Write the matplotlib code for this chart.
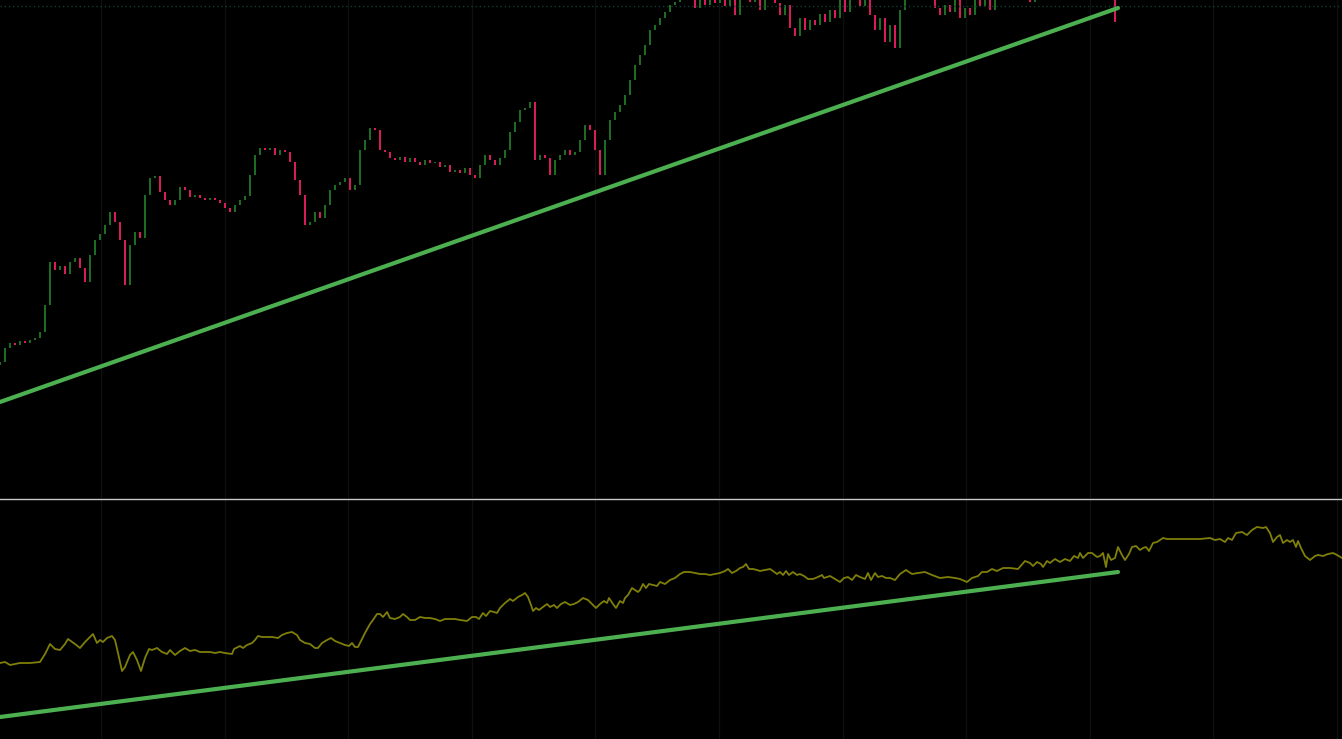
import numpy as np
import matplotlib.pyplot as plt
from matplotlib.lines import Line2D

# price candles (one bar every 5 time units), open of first bar + closes
first_open = 133
closes = [
    136, 150, 155, 153, 157, 155, 158, 160, 166, 193, 236, 228, 232, 224, 236, 240,
    230, 216, 243, 258, 264, 273, 286, 276, 258, 213, 253, 266, 260, 303, 320, 322,
    306, 298, 293, 298, 311, 308, 301, 303, 300, 298, 300, 298, 295, 290, 286, 293,
    298, 302, 323, 343, 350, 348, 350, 343, 348, 346, 336, 318, 303, 273, 276, 286,
    280, 293, 308, 313, 316, 320, 308, 313, 348, 358, 370, 368, 348, 346, 340, 338,
    341, 336, 340, 336, 333, 338, 335, 336, 331, 333, 326, 328, 325, 330, 323, 320,
    333, 343, 338, 333, 340, 348, 366, 376, 388, 390, 396, 338, 343, 340, 323, 338,
    343, 348, 343, 346, 358, 373, 368, 348, 323, 358, 378, 386, 393, 403, 418, 433,
    443, 453, 468, 473, 480, 486, 493, 496, 503, 513, 510, 490, 503, 493, 506, 495,
    508, 492, 504, 483, 510, 503, 496, 506, 488, 513, 518, 495, 483, 493, 470, 462,
    480, 468, 478, 473, 484, 476, 488, 480, 503, 486, 506, 513, 492, 508, 483, 468,
    480, 456, 473, 450, 488, 518, 528, 523, 533, 526, 518, 490, 483, 493, 486, 503,
    480, 490, 483, 508, 492, 513, 488, 506, 523, 538, 533, 528, 543, 536, 496, 538,
    548, 543, 553, 546, 550, 543, 548, 538, 546, 533, 540, 528, 536, 523, 528, 476,
]

# oscillator in the lower pane
osc_x = [
    0, 5, 10, 15, 20, 30, 40, 45, 50, 55, 60, 65, 68, 75, 80, 85, 90, 93, 97, 100,
    103, 107, 112, 115, 118, 122, 125, 130, 133, 137, 141, 145, 149, 152, 157, 162,
    167, 170, 175, 180, 185, 190, 195, 200, 205, 210, 215, 220, 225, 232, 234, 240,
    243, 247, 252, 255, 258, 262, 267, 272, 278, 282, 287, 292, 297, 300, 305, 310,
    315, 318, 322, 327, 331, 335, 340, 345, 349, 352, 355, 358, 362, 365, 370, 373,
    377, 380, 383, 387, 390, 395, 400, 403, 407, 410, 415, 420, 425, 430, 435, 440,
    445, 450, 455, 460, 467, 472, 476, 479, 483, 486, 490, 494, 497, 500, 505, 510,
    513, 518, 522, 525, 528, 531, 533, 536, 539, 543, 547, 550, 554, 557, 561, 565,
    570, 574, 578, 583, 588, 593, 596, 600, 604, 607, 609, 613, 616, 620, 623, 625,
    628, 632, 635, 638, 640, 643, 646, 649, 653, 657, 660, 665, 670, 675, 680, 684,
    690, 695, 700, 705, 710, 715, 720, 725, 728, 732, 736, 740, 743, 746, 749, 753,
    757, 760, 765, 770, 773, 777, 780, 783, 786, 789, 793, 797, 800, 804, 808, 813,
    818, 822, 824, 827, 830, 835, 840, 844, 848, 852, 856, 860, 865, 868, 871, 875,
    878, 882, 886, 890, 895, 900, 906, 912, 918, 925, 932, 940, 948, 955, 960, 967,
    972, 978, 982, 987, 992, 997, 1003, 1010, 1018, 1025, 1030, 1033, 1037, 1041, 1043, 1047,
    1050, 1055, 1060, 1065, 1070, 1074, 1078, 1080, 1083, 1088, 1092, 1097, 1100, 1103, 1106, 1108,
    1111, 1115, 1118, 1122, 1125, 1129, 1132, 1136, 1140, 1143, 1146, 1149, 1153, 1157, 1163, 1167,
    1173, 1180, 1190, 1200, 1210, 1215, 1220, 1225, 1228, 1232, 1236, 1242, 1247, 1252, 1257, 1263,
    1266, 1270, 1273, 1277, 1280, 1283, 1287, 1290, 1293, 1296, 1298, 1301, 1305, 1310, 1315, 1318,
    1323, 1328, 1333, 1337, 1342,
]
osc_val = [
    76, 77, 74, 75, 76, 76, 77, 85, 95, 90, 89, 95, 100, 95, 91, 97, 102, 105, 96, 99,
    97, 101, 103, 99, 86, 68, 72, 84, 87, 79, 68, 81, 90, 89, 91, 87,
    85, 89, 84, 88, 91, 88, 89, 87, 87, 87, 86, 87, 86, 85, 90, 93,
    91, 94, 96, 99, 103, 102, 102, 102, 101, 104, 106, 107, 104, 99, 96, 95,
    91, 91, 96, 99, 101, 98, 96, 94, 93, 96, 92, 92, 100, 106, 115, 119,
    125, 125, 122, 127, 121, 120, 122, 125, 122, 119, 119, 122, 121, 121, 120, 118,
    120, 120, 120, 119, 118, 122, 122, 120, 126, 123, 128, 127, 126, 131, 136, 140,
    138, 142, 144, 146, 142, 134, 128, 131, 129, 132, 135, 132, 134, 131, 135, 137,
    134, 135, 137, 141, 139, 134, 131, 135, 138, 136, 141, 135, 131, 138, 136, 141,
    144, 151, 149, 147, 149, 155, 151, 155, 154, 153, 157, 155, 159, 161, 165, 167,
    167, 166, 165, 165, 164, 165, 166, 168, 170, 166, 168, 171, 172, 175, 170, 170,
    169, 168, 169, 170, 168, 165, 167, 164, 168, 164, 167, 164, 165, 163, 160, 160,
    162, 164, 161, 162, 163, 160, 157, 161, 162, 159, 164, 162, 160, 166, 159, 166,
    162, 163, 161, 161, 159, 165, 169, 165, 166, 167, 164, 161, 162, 161, 160, 157,
    161, 163, 167, 167, 170, 168, 171, 171, 170, 178, 176, 173, 177, 175, 172, 178,
    176, 180, 177, 180, 178, 183, 181, 186, 181, 186, 186, 182, 183, 186, 172, 185,
    179, 181, 192, 184, 179, 185, 192, 193, 189, 191, 192, 188, 196, 197, 201, 200,
    200, 200, 200, 200, 201, 199, 200, 197, 201, 199, 206, 207, 204, 209, 212, 211,
    212, 206, 197, 202, 204, 196, 199, 197, 199, 192, 198, 191, 183, 179, 183, 184,
    183, 185, 186, 184, 181,
]

# trendlines (start / end)
trend_x = [0, 1118]
trend_price = [96, 490]
trend_osc = [22, 167]

level_price = 492
grid_x = [101, 224.6, 348.2, 471.8, 595.4, 719, 842.6, 966.2, 1089.8, 1213.4, 1337]

bg = '#000000'
up_col = '#1e6b22'
down_col = '#d81b5a'
trend_col = '#4caf50'
osc_col = '#7f7f0a'
grid_col = '#0f0f0f'

fig = plt.figure(figsize=(13.42, 7.39), dpi=100, facecolor=bg)
ax1 = fig.add_axes([0, 241 / 739, 1, 498 / 739])
ax2 = fig.add_axes([0, 0, 1, 240 / 739])

for ax in (ax1, ax2):
    ax.set_facecolor(bg)
    ax.set_xlim(0, 1342)
    ax.set_xticks(grid_x)
    ax.grid(True, axis='x', color=grid_col, lw=1)
    ax.set_axisbelow(True)
    ax.tick_params(left=False, bottom=False, labelleft=False, labelbottom=False)
    for s in ax.spines.values():
        s.set_visible(False)

# candles
closes = np.array(closes, dtype=float)
opens = np.concatenate([[first_open], closes[:-1]])
t = np.arange(len(closes)) * 5
colors = [up_col if c >= o else down_col for o, c in zip(opens, closes)]
ax1.bar(t, closes - opens, bottom=opens, width=1.8, color=colors, linewidth=0)

ax1.axhline(level_price, color='#0e3f32', lw=1, ls=(0, (1, 2)))
ax1.plot(trend_x, trend_price, color=trend_col, lw=3, solid_capstyle='round')
ax1.set_ylim(0, 498)

ax2.plot(osc_x, osc_val, color=osc_col, lw=1.3)
ax2.plot(trend_x, trend_osc, color=trend_col, lw=3, solid_capstyle='round')
ax2.set_ylim(0, 240)

fig.add_artist(Line2D([0, 1], [1 - 498.5 / 739, 1 - 498.5 / 739], color='#c8c8c8', lw=1))

fig.savefig('out.png', dpi=100, facecolor=bg)
